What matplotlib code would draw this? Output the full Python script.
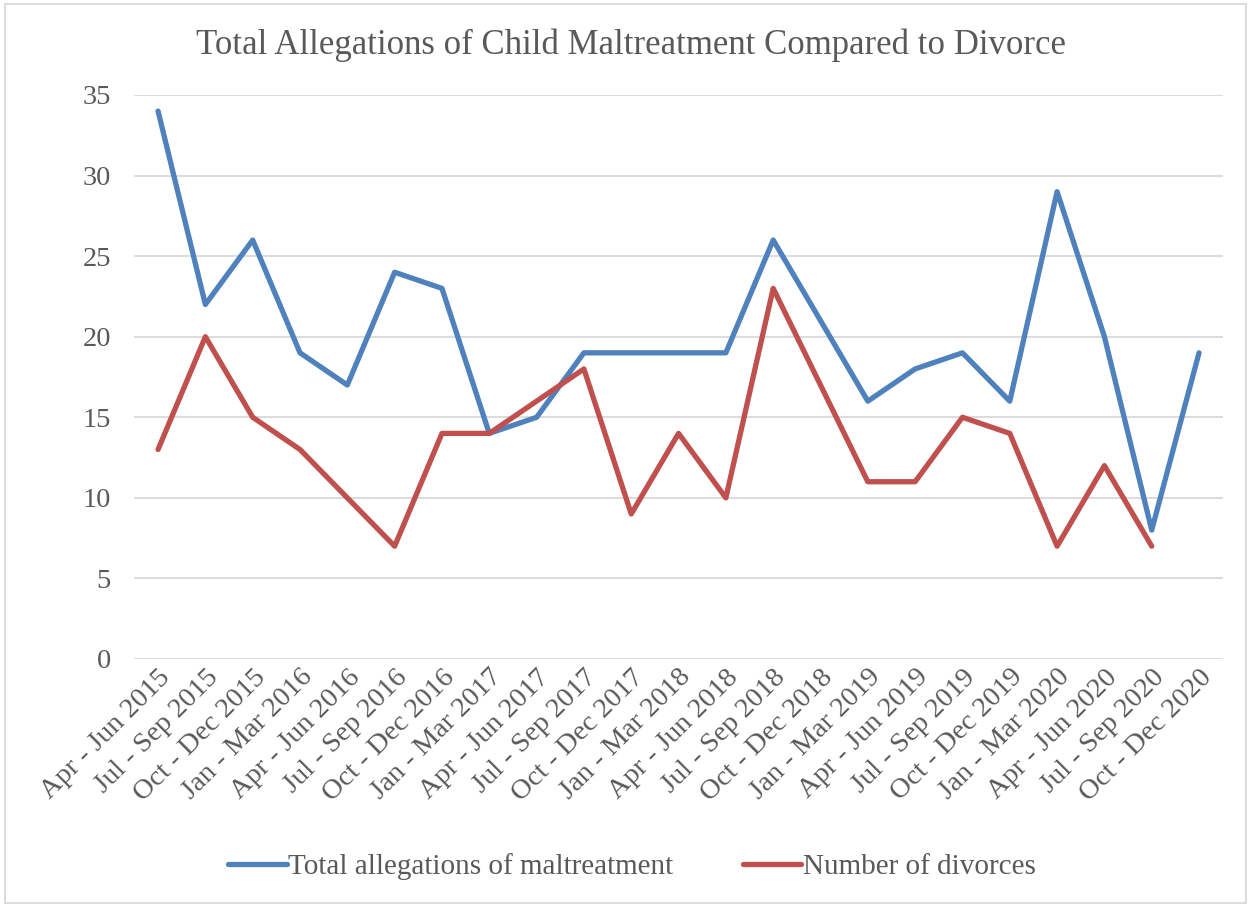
import matplotlib
matplotlib.use("Agg")
import matplotlib.pyplot as plt
from matplotlib.patches import Rectangle
import numpy as np

categories = ["Apr - Jun 2015", "Jul - Sep 2015", "Oct - Dec 2015", "Jan - Mar 2016",
              "Apr - Jun 2016", "Jul - Sep 2016", "Oct - Dec 2016", "Jan - Mar 2017",
              "Apr - Jun 2017", "Jul - Sep 2017", "Oct - Dec 2017", "Jan - Mar 2018",
              "Apr - Jun 2018", "Jul - Sep 2018", "Oct - Dec 2018", "Jan - Mar 2019",
              "Apr - Jun 2019", "Jul - Sep 2019", "Oct - Dec 2019", "Jan - Mar 2020",
              "Apr - Jun 2020", "Jul - Sep 2020", "Oct - Dec 2020"]
allegations = [34, 22, 26, 19, 17, 24, 23, 14, 15, 19, 19, 19, 19, 26, 21, 16, 18, 19, 16, 29, 20, 8, 19]
divorces = [13, 20, 15, 13, 10, 7, 14, 14, 16, 18, 9, 14, 10, 23, 17, 11, 11, 15, 14, 7, 12, 7, np.nan]
yticks = [0, 5, 10, 15, 20, 25, 30, 35]

plt.rcParams['font.family'] = ['Liberation Serif', 'DejaVu Serif']
txt = '#595959'

fig = plt.figure(figsize=(12.51, 9.06), dpi=100)
W, H = 1251, 906
ax = fig.add_axes([134.4 / W, 1 - 659 / H, (1222.7 - 134.4) / W, (659 - 95) / H])

x = np.arange(len(categories))
ax.plot(x, allegations, color='#4F81BD', lw=3.8, solid_joinstyle='round', solid_capstyle='round',
        label='Total allegations of maltreatment')
ax.plot(x, divorces, color='#C0504D', lw=3.8, solid_joinstyle='round', solid_capstyle='round',
        label='Number of divorces')

ax.set_xlim(-0.5, len(categories) - 0.5)
ax.set_ylim(0, 35)
ax.set_yticks(yticks)
ax.set_yticklabels([str(v) for v in yticks])
ax.set_xticks(x)
ax.set_xticklabels(categories, rotation=45, ha='right', rotation_mode='anchor')
ax.tick_params(axis='both', length=0, labelsize=20.5, colors=txt)
ax.tick_params(axis='y', pad=17)
ax.tick_params(axis='x', pad=4)
ax.grid(axis='y', color='#D9D9D9', lw=1.3)
ax.set_axisbelow(True)
for s in ax.spines.values():
    s.set_visible(False)

fig.text(631 / W, 1 - 45 / H, 'Total Allegations of Child Maltreatment Compared to Divorce',
         ha='center', va='center', fontsize=25, color=txt)

leg = fig.legend(loc='center', bbox_to_anchor=(632 / W, 1 - 867 / H), ncol=2, frameon=False,
                 fontsize=21, handlelength=2.0, handletextpad=0.05, columnspacing=2.4)
for t in leg.get_texts():
    t.set_color(txt)

fig.patches.append(Rectangle((5 / W, 3 / H), 1241 / W, 899 / H, transform=fig.transFigure,
                             fill=False, edgecolor='#D9D9D9', lw=1.3))

fig.savefig('out.png', dpi=100)
